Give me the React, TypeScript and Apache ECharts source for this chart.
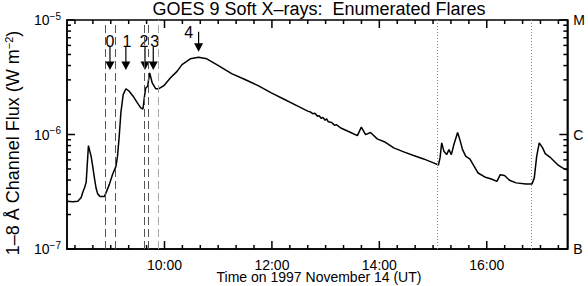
import React, { useEffect, useRef } from 'react';
import * as echarts from 'echarts';

// Time (hours UT, 1997 Nov 14) and GOES 1-8 Å flux (W m^-2)
const times = [
  8.187, 8.294, 8.387, 8.449, 8.479, 8.51, 8.542, 8.584, 8.634, 8.664, 8.695, 8.726, 8.756, 8.8, 8.88,
  8.911, 8.972, 9.033, 9.096, 9.125, 9.157, 9.188, 9.231, 9.281, 9.342, 9.416, 9.495, 9.558, 9.6,
  9.624, 9.65, 9.687, 9.724, 9.772, 9.835, 9.896, 9.988, 10.112, 10.234, 10.326, 10.481, 10.635,
  10.788, 11.004, 11.25, 11.498, 11.743, 11.989, 12.236, 12.482, 12.667, 12.72, 12.76, 12.8, 12.852,
  12.88, 12.92, 12.95, 12.99, 13.02, 13.05, 13.097, 13.13, 13.17, 13.2, 13.282, 13.467, 13.591,
  13.665, 13.744, 13.836, 13.96, 14.113, 14.268, 14.454, 14.638, 14.823, 15.008, 15.1, 15.13, 15.161,
  15.203, 15.253, 15.296, 15.34, 15.388, 15.457, 15.499, 15.549, 15.61, 15.684, 15.747, 15.839,
  15.961, 16.085, 16.19, 16.251, 16.33, 16.423, 16.547, 16.731, 16.842, 16.885, 16.929, 16.977,
  17.04, 17.088, 17.193, 17.317, 17.409, 17.5,
];
const flux = [
  2.61e-7, 2.58e-7, 2.61e-7, 2.82e-7, 3.13e-7, 3.41e-7, 3.82e-7, 8.0e-7, 6.44e-7, 5.27e-7, 4.18e-7,
  3.41e-7, 3.03e-7, 2.88e-7, 2.88e-7, 3.09e-7, 3.65e-7, 4.47e-7, 5.27e-7, 6.44e-7, 9.64e-7, 1.55e-6,
  2.23e-6, 2.51e-6, 2.39e-6, 2.16e-6, 1.89e-6, 1.71e-6, 1.67e-6, 2.09e-6, 2.55e-6, 2.64e-6, 3.45e-6,
  2.82e-6, 2.51e-6, 2.51e-6, 2.67e-6, 3.13e-6, 3.56e-6, 4.08e-6, 4.58e-6, 4.73e-6, 4.58e-6, 4.0e-6,
  3.4e-6, 3.02e-6, 2.67e-6, 2.31e-6, 2.02e-6, 1.77e-6, 1.6e-6, 1.57e-6, 1.52e-6, 1.53e-6, 1.44e-6,
  1.46e-6, 1.38e-6, 1.41e-6, 1.33e-6, 1.37e-6, 1.29e-6, 1.28e-6, 1.25e-6, 1.2e-6, 1.22e-6, 1.14e-6,
  1.04e-6, 9.77e-7, 1.16e-6, 9.98e-7, 1.04e-6, 9.16e-7, 8.55e-7, 7.64e-7, 7.05e-7, 6.55e-7, 6.12e-7,
  5.65e-7, 5.41e-7, 6.24e-7, 8.45e-7, 7.13e-7, 6.67e-7, 7.38e-7, 6.67e-7, 8.17e-7, 1.04e-6, 9.02e-7,
  7.38e-7, 6.44e-7, 6.12e-7, 5.46e-7, 4.61e-7, 4.26e-7, 4.09e-7, 3.9e-7, 4.46e-7, 4.38e-7, 3.98e-7,
  3.78e-7, 3.7e-7, 3.7e-7, 4.18e-7, 6.44e-7, 8.45e-7, 7.64e-7, 6.81e-7, 6.24e-7, 5.46e-7, 5.11e-7,
  4.89e-7,
];

// Flare boundary markers (hours UT)
const flareLines = [8.9, 9.083, 9.617, 9.7, 9.883];
const flareLineColors = ['#555', '#555', '#555', '#555', '#aaa'];
const eventLines = [15.083, 16.833];

// Enumerated flare arrows
const arrowLabels = ['0', '1', '2', '3', '4'];
const arrowTimes = [8.985, 9.281, 9.637, 9.791, 10.635];
const arrowTipFlux = [3.66e-6, 3.66e-6, 3.66e-6, 3.66e-6, 5.28e-6];
const arrowStyles = [
  { dx: 0, dy: -28, shaft: 23 },
  { dx: 1, dy: -28, shaft: 23 },
  { dx: -1, dy: -28, shaft: 23 },
  { dx: 1.5, dy: -28, shaft: 23 },
  { dx: -10, dy: -19, shaft: 20 },
];

// Axes
const X_MIN = 8.185;
const X_MAX = 17.5;
const majorHours = [10, 12, 14, 16];
const minorMinutes = [
  500, 520, 540, 560, 580, 620, 640, 660, 680, 700, 740, 760, 780, 800, 820, 860, 880, 900, 920, 940,
  980, 1000, 1020, 1040,
];
const yDecades = [-7, -6, -5];
const goesClasses = ['B', 'C', 'M'];
const minorMultipliers = [2, 3, 4, 5, 6, 7, 8, 9];

const FONT = '"Liberation Sans", Arial, Helvetica, sans-serif';

export default function App() {
  const ref = useRef<HTMLDivElement>(null);

  useEffect(() => {
    if (!ref.current) return;
    const chart = echarts.init(ref.current, undefined, { renderer: 'svg' });

    const minorHours = minorMinutes.map((m) => m / 60);
    const minorLogs: number[] = [];
    yDecades.slice(0, -1).forEach((d) => minorMultipliers.forEach((k) => minorLogs.push(d + Math.log10(k))));

    // tick data: [x, y, length, orientation(0 = x-axis tick, 1 = y-axis tick)]
    const tickData = [
      ...majorHours.map((h) => [h, -7, 8, 0]),
      ...minorHours.map((h) => [h, -7, 4, 0]),
      ...yDecades.map((v) => [X_MIN, v, 8, 1]),
      ...minorLogs.map((v) => [X_MIN, v, 4, 1]),
    ];

    const option: any = {
      animation: false,
      textStyle: { fontFamily: FONT },
      grid: {
        left: 67,
        top: 20,
        width: 504,
        height: 229,
        containLabel: false,
        show: true,
        borderColor: '#000',
        borderWidth: 1.5,
      },
      xAxis: [
        {
          type: 'value',
          min: X_MIN,
          max: X_MAX,
          position: 'bottom',
          splitLine: { show: false },
          axisLine: { show: true, onZero: false, lineStyle: { color: '#000', width: 1.5 } },
          axisTick: { show: false },
          axisLabel: {
            customValues: majorHours,
            formatter: (v: number) => `${v}:00`,
            fontSize: 14,
            lineHeight: 12,
            color: '#000',
            margin: 10,
            fontFamily: FONT,
          },
        },
      ],
      yAxis: [
        {
          type: 'value',
          min: -7,
          max: -5,
          position: 'left',
          splitLine: { show: false },
          axisLine: { show: true, onZero: false, lineStyle: { color: '#000', width: 1.5 } },
          axisTick: { show: false },
          axisLabel: {
            customValues: yDecades,
            margin: 6,
            color: '#000',
            formatter: (v: number) => `{b|10}{s|−${Math.round(-v)}}`,
            rich: {
              b: { fontSize: 14, fontFamily: FONT, color: '#000' },
              s: { fontSize: 10, fontFamily: FONT, color: '#000', padding: [0, 0, 8, 0] },
            },
          },
        },
        {
          type: 'value',
          min: -7,
          max: -5,
          position: 'right',
          splitLine: { show: false },
          axisLine: { show: true, onZero: false, lineStyle: { color: '#000', width: 1.5 } },
          axisTick: { show: false },
          axisLabel: {
            customValues: yDecades,
            margin: 6,
            fontSize: 14,
            color: '#000',
            fontFamily: FONT,
            formatter: (v: number) => goesClasses[Math.round(v) + 7],
          },
        },
      ],
      series: [
        {
          type: 'line',
          xAxisIndex: 0,
          yAxisIndex: 0,
          data: times.map((t, i) => [t, Math.log10(flux[i])]),
          showSymbol: false,
          symbol: 'none',
          lineStyle: { color: '#000', width: 1.5 },
          z: 3,
          markLine: {
            silent: true,
            symbol: ['none', 'none'],
            label: { show: false },
            data: [
              ...flareLines.map((t, i) => ({
                xAxis: t,
                lineStyle: { type: [8, 4], color: flareLineColors[i], width: 1 },
              })),
              ...eventLines.map((t) => ({
                xAxis: t,
                lineStyle: { type: [1, 2], color: '#888', width: 1 },
              })),
            ],
          },
        },
        {
          // axis ticks on all four sides, pointing inward
          type: 'custom',
          xAxisIndex: 0,
          yAxisIndex: 0,
          clip: false,
          z: 6,
          data: tickData,
          renderItem: (params: any, api: any) => {
            const cs = params.coordSys;
            const p = api.coord([api.value(0), api.value(1)]);
            const len = api.value(2);
            const isY = api.value(3) === 1;
            if (!isY) {
              const x = p[0];
              const yb = cs.y + cs.height;
              const yt = cs.y;
              return {
                type: 'group',
                children: [
                  { type: 'line', shape: { x1: x, y1: yb, x2: x, y2: yb - len }, style: { stroke: '#000', lineWidth: 1.5 } },
                  { type: 'line', shape: { x1: x, y1: yt, x2: x, y2: yt + len }, style: { stroke: '#000', lineWidth: 1.5 } },
                ],
              };
            }
            const y = p[1];
            const xl = cs.x;
            const xr = cs.x + cs.width;
            return {
              type: 'group',
              children: [
                { type: 'line', shape: { x1: xl, y1: y, x2: xl + len, y2: y }, style: { stroke: '#000', lineWidth: 1.5 } },
                { type: 'line', shape: { x1: xr, y1: y, x2: xr - len, y2: y }, style: { stroke: '#000', lineWidth: 1.5 } },
              ],
            };
          },
        },
        {
          type: 'custom',
          xAxisIndex: 0,
          yAxisIndex: 0,
          clip: false,
          z: 4,
          data: arrowTimes.map((t, i) => [t, Math.log10(arrowTipFlux[i]), i]),
          renderItem: (params: any, api: any) => {
            const i = api.value(2);
            const p = api.coord([api.value(0), api.value(1)]);
            const st = arrowStyles[i];
            const x = p[0];
            const y = p[1];
            return {
              type: 'group',
              children: [
                {
                  type: 'line',
                  shape: { x1: x, y1: y - st.shaft, x2: x, y2: y - 7 },
                  style: { stroke: '#000', lineWidth: 1.2 },
                },
                {
                  type: 'polygon',
                  shape: { points: [[x - 4.5, y - 8.5], [x + 4.5, y - 8.5], [x, y]] },
                  style: { fill: '#000' },
                },
                {
                  type: 'text',
                  x: x + st.dx,
                  y: y + st.dy,
                  style: {
                    text: arrowLabels[i],
                    fill: '#000',
                    fontSize: 16,
                    fontFamily: FONT,
                    align: 'center',
                    verticalAlign: 'middle',
                  },
                },
              ],
            };
          },
        },
      ],
      graphic: [
        {
          type: 'text',
          x: 319,
          y: 9,
          style: {
            text: 'GOES 9 Soft X–rays:  Enumerated Flares',
            fill: '#000',
            fontSize: 18,
            fontFamily: FONT,
            align: 'center',
            verticalAlign: 'middle',
          },
        },
        {
          type: 'text',
          x: 319,
          y: 277,
          style: {
            text: 'Time on 1997 November 14 (UT)',
            fill: '#000',
            fontSize: 14,
            lineHeight: 12,
            fontFamily: FONT,
            align: 'center',
            verticalAlign: 'middle',
          },
        },
        {
          type: 'text',
          x: 13,
          y: 143,
          rotation: Math.PI / 2,
          style: {
            text: '{n|1–8 Å Channel Flux (W m}{s|−2}{n|)}',
            align: 'center',
            verticalAlign: 'middle',
            rich: {
              n: { fontSize: 18, fontFamily: FONT, fill: '#000' },
              s: { fontSize: 11, fontFamily: FONT, fill: '#000', padding: [0, 0, 9, 0] },
            },
          },
        },
      ],
    };

    chart.setOption(option);
    return () => chart.dispose();
  }, []);

  return (
    <div
      ref={ref}
      style={{ position: 'absolute', left: 0, top: 0, width: 588, height: 286, background: '#fff' }}
    />
  );
}
